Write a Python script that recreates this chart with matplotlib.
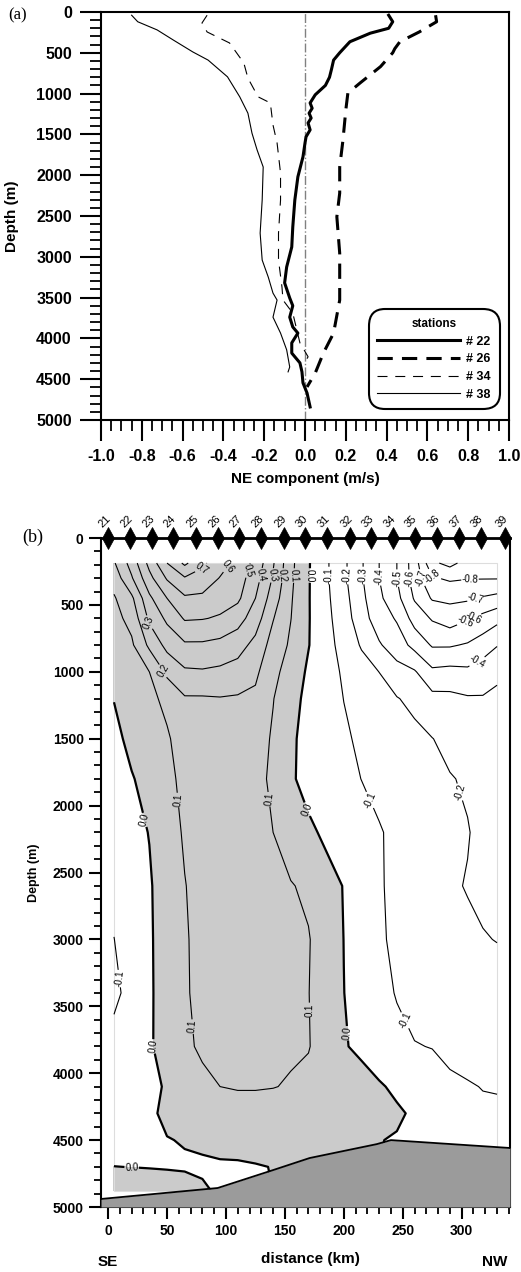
import numpy as np
import matplotlib.pyplot as plt
import matplotlib.transforms as mtransforms
from matplotlib.patches import Rectangle
from matplotlib.ticker import MultipleLocator, FormatStrFormatter

plt.rcParams['font.family'] = ['Liberation Sans', 'DejaVu Sans']
plt.rcParams['font.weight'] = 'bold'
plt.rcParams['axes.labelweight'] = 'bold'
plt.rcParams['contour.negative_linestyle'] = 'solid'

# ---------------- panel (a): NE component profiles (m/s) vs depth (m)
v22 = [0.41, 0.43, 0.41, 0.32, 0.22, 0.17, 0.14, 0.13, 0.12, 0.10, 0.05, 0.025, 0.035, 0.02, 0.03,
       0.015, 0.025, 0.005, 0.0, -0.01, -0.035, -0.05, -0.06, -0.065, -0.09, -0.1, -0.075, -0.06,
       -0.075, -0.06, -0.035, -0.065, -0.065, -0.025, -0.015, -0.01, 0.01, 0.025]
z22 = [40, 120, 200, 260, 365, 500, 590, 700, 800, 900, 1015, 1115, 1180, 1240, 1300,
       1360, 1445, 1530, 1605, 1775, 2020, 2305, 2635, 2880, 3125, 3320, 3505, 3600,
       3740, 3860, 3935, 4055, 4180, 4300, 4410, 4545, 4670, 4840]

v26 = [0.64, 0.645, 0.56, 0.465, 0.44, 0.43, 0.37, 0.27, 0.21, 0.2, 0.186, 0.17, 0.17, 0.156,
       0.17, 0.17, 0.17, 0.14, 0.09, 0.05, 0.01]
z26 = [40, 120, 245, 365, 450, 500, 670, 870, 995, 1200, 1570, 1900, 2220, 2510,
       2955, 3320, 3530, 3935, 4180, 4425, 4595]

v34 = [-0.48, -0.505, -0.48, -0.37, -0.3, -0.28, -0.23, -0.17, -0.157, -0.137, -0.12, -0.12,
       -0.13, -0.13, -0.113, -0.108, -0.06, -0.025, 0.015, 0.0]
z34 = [40, 135, 245, 380, 625, 810, 1040, 1115, 1385, 1605, 1975, 2305,
       2710, 3040, 3370, 3530, 3690, 4055, 4225, 4290]

v38 = [-0.85, -0.82, -0.725, -0.645, -0.55, -0.475, -0.38, -0.32, -0.28, -0.26, -0.235, -0.205,
       -0.21, -0.22, -0.21, -0.18, -0.157, -0.137, -0.157, -0.12, -0.09, -0.075, -0.083]
z38 = [40, 120, 220, 345, 490, 590, 795, 1040, 1240, 1485, 1690, 1900,
       2305, 2710, 3040, 3250, 3445, 3530, 3740, 3935, 4140, 4350, 4410]

# ---------------- panel (b): section of NE component
station_ids = list(range(21, 40))
station_km = [0, 19, 37, 55, 75, 93, 111, 130, 149, 167, 186, 205, 223, 242, 260, 279, 298, 316, 337]

dist_km = [5, 20, 35, 50, 65, 80, 95, 110, 125, 140, 155, 170, 185, 200, 215, 230, 245, 260,
           275, 290, 305, 318, 330]
depth_m = [187, 300, 450, 600, 800, 1000, 1200, 1500, 1800, 2200, 2600, 3000, 3400, 3800,
           4100, 4300, 4500, 4700, 4880]

# one profile per distance column (values at depth_m)
vel_cols = [
    [0.19, 0.14, 0.09, 0.07, 0.05, 0.025, 0.002, -0.02, -0.04, -0.06, -0.08, -0.101, -0.12, -0.07, -0.05, -0.03, -0.02, 0.0005, 0.03],
    [0.34, 0.29, 0.18, 0.13, 0.085, 0.065, 0.045, 0.02, -0.005, -0.03, -0.045, -0.06, -0.07, -0.05, -0.035, -0.025, -0.015, -0.0005, 0.03],
    [0.53, 0.47, 0.38, 0.32, 0.22, 0.10, 0.07, 0.045, 0.025, 0.003, -0.01, -0.012, -0.012, -0.01, -0.012, -0.01, -0.015, -0.002, 0.03],
    [0.70, 0.61, 0.50, 0.42, 0.33, 0.22, 0.13, 0.085, 0.07, 0.06, 0.05, 0.045, 0.04, 0.035, 0.005, 0.012, -0.002, -0.004, 0.03],
    [0.82, 0.69, 0.585, 0.51, 0.385, 0.285, 0.19, 0.16, 0.13, 0.11, 0.097, 0.092, 0.092, 0.088, 0.05, 0.03, 0.003, -0.006, 0.025],
    [0.72, 0.66, 0.58, 0.505, 0.385, 0.29, 0.19, 0.16, 0.145, 0.135, 0.13, 0.125, 0.12, 0.11, 0.085, 0.05, 0.012, -0.01, 0.01],
    [0.64, 0.595, 0.54, 0.49, 0.37, 0.28, 0.195, 0.17, 0.155, 0.145, 0.14, 0.135, 0.13, 0.12, 0.1, 0.06, 0.025, -0.01, -0.01],
    [0.57, 0.55, 0.52, 0.44, 0.34, 0.26, 0.19, 0.165, 0.15, 0.145, 0.14, 0.138, 0.135, 0.125, 0.105, 0.07, 0.03, -0.01, -0.02],
    [0.47, 0.44, 0.40, 0.35, 0.27, 0.22, 0.18, 0.14, 0.12, 0.115, 0.12, 0.125, 0.125, 0.12, 0.105, 0.07, 0.035, -0.005, -0.01],
    [0.31, 0.29, 0.25, 0.205, 0.16, 0.125, 0.103, 0.09, 0.088, 0.1, 0.11, 0.115, 0.118, 0.115, 0.102, 0.07, 0.035, 0.002, 0.0],
    [0.125, 0.12, 0.11, 0.102, 0.085, 0.06, 0.04, 0.02, 0.012, 0.055, 0.105, 0.11, 0.112, 0.108, 0.095, 0.07, 0.04, 0.02, 0.0],
    [0.008, 0.007, 0.006, 0.006, 0.004, -0.015, -0.03, -0.04, -0.03, 0.017, 0.085, 0.105, 0.102, 0.104, 0.08, 0.06, 0.04, 0.02, 0.0],
    [-0.085, -0.085, -0.08, -0.075, -0.07, -0.062, -0.068, -0.057, -0.048, -0.016, 0.03, 0.056, 0.053, 0.063, 0.05, 0.045, 0.03, 0.02, 0.0],
    [-0.18, -0.18, -0.165, -0.15, -0.13, -0.112, -0.101, -0.09, -0.075, -0.041, -0.003, -0.001, 0.001, 0.004, 0.035, 0.04, 0.03, 0.02, 0.0],
    [-0.29, -0.29, -0.275, -0.26, -0.21, -0.156, -0.127, -0.112, -0.101, -0.067, -0.047, -0.043, -0.034, -0.011, 0.02, 0.03, 0.01, 0.0, 0.0],
    [-0.40, -0.40, -0.38, -0.35, -0.29, -0.201, -0.155, -0.132, -0.119, -0.095, -0.094, -0.093, -0.074, -0.044, 0.008, 0.02, 0.002, 0.0, 0.0],
    [-0.50, -0.50, -0.47, -0.41, -0.35, -0.265, -0.195, -0.17, -0.137, -0.115, -0.115, -0.11, -0.105, -0.078, -0.014, 0.01, -0.005, -0.01, -0.01],
    [-0.65, -0.645, -0.61, -0.54, -0.43, -0.29, -0.225, -0.175, -0.15, -0.134, -0.138, -0.128, -0.125, -0.097, -0.03, -0.01, -0.02, -0.02, -0.02],
    [-0.88, -0.79, -0.71, -0.61, -0.51, -0.38, -0.27, -0.198, -0.18, -0.16, -0.16, -0.145, -0.13, -0.102, -0.07, -0.06, -0.05, -0.05, -0.05],
    [-0.93, -0.815, -0.72, -0.65, -0.51, -0.37, -0.275, -0.225, -0.195, -0.19, -0.19, -0.17, -0.15, -0.12, -0.085, -0.075, -0.07, -0.07, -0.07],
    [-0.86, -0.805, -0.715, -0.61, -0.49, -0.38, -0.29, -0.24, -0.21, -0.196, -0.204, -0.185, -0.16, -0.125, -0.095, -0.085, -0.08, -0.08, -0.08],
    [-0.855, -0.805, -0.69, -0.57, -0.45, -0.35, -0.293, -0.26, -0.23, -0.22, -0.215, -0.196, -0.165, -0.13, -0.102, -0.09, -0.082, -0.08, -0.08],
    [-0.85, -0.805, -0.67, -0.53, -0.405, -0.31, -0.29, -0.27, -0.25, -0.235, -0.22, -0.202, -0.17, -0.135, -0.104, -0.09, -0.085, -0.085, -0.085],
]
levels = [-0.9, -0.8, -0.7, -0.6, -0.5, -0.4, -0.3, -0.2, -0.1, 0.0, 0.1, 0.2, 0.3, 0.4, 0.5, 0.6, 0.7, 0.8]

# where the contour labels sit (km, m)
label_pos = [(80, 240), (103, 220), (123, 255), (131, 280), (140, 280), (148, 280), (157, 280),
             (171, 280), (188, 280), (203, 280), (216, 280), (229, 290), (245, 300), (256, 300),
             (264, 300), (275, 300), (307, 280), (310, 400), (308, 560), (306, 680), (311, 890),
             (33, 635), (47, 990), (59, 1958), (34, 2100), (131, 1958), (165, 2040), (222, 1958),
             (304, 1883), (38, 3800), (67, 3655), (169, 3527), (205, 3700), (247, 3625),
             (12, 3290), (20, 4700)]

bathy_km = [-6, 93, 140, 171, 228, 240, 341]
bathy_m = [4940, 4858, 4724, 4634, 4530, 4500, 4559]

fig = plt.figure(figsize=(5.21, 12.72), dpi=100)
ax1 = fig.add_axes([0.1939, 0.6698, 0.7831, 0.3208])
ax2 = fig.add_axes([0.1939, 0.0511, 0.7850, 0.5259])

# ---- panel (a)
ax1.axvline(0, color='#808080', lw=1.0, ls='-.')
ax1.plot(v22, z22, color='k', lw=2.2, label='# 22')
ax1.plot(v26, z26, color='k', lw=2.2, dashes=(5, 3), label='# 26')
ax1.plot(v34, z34, color='k', lw=0.8, dashes=(9, 7), label='# 34')
ax1.plot(v38, z38, color='k', lw=0.8, label='# 38')
ax1.set_xlim(-1, 1)
ax1.set_ylim(5000, 0)
ax1.xaxis.set_major_locator(MultipleLocator(0.2))
ax1.xaxis.set_minor_locator(MultipleLocator(0.05))
ax1.xaxis.set_major_formatter(FormatStrFormatter('%.1f'))
ax1.yaxis.set_major_locator(MultipleLocator(500))
ax1.yaxis.set_minor_locator(MultipleLocator(100))
ax1.tick_params(which='major', direction='out', length=15, width=1.5, labelsize=11.5, pad=6)
ax1.tick_params(which='minor', direction='out', length=8, width=1.3)
for sp in ax1.spines.values():
    sp.set_linewidth(1.5)
ax1.set_xlabel('NE component (m/s)', fontsize=11, fontweight='bold')
ax1.xaxis.set_label_coords(0.5, -0.128)
ax1.set_ylabel('Depth (m)', fontsize=11, fontweight='bold')
ax1.yaxis.set_label_coords(-0.2, 0.5)

leg = ax1.legend(title='stations', loc='lower right', bbox_to_anchor=(0.9706, 0.032),
                 borderaxespad=0, fontsize=9, title_fontsize=8.5, handlelength=6.6,
                 handletextpad=0.5, labelspacing=0.45, borderpad=0.5,
                 fancybox=True, framealpha=1, edgecolor='k')
leg.get_frame().set_linewidth(1.5)
leg.get_frame().set_boxstyle('round,pad=0.2,rounding_size=1.3')

# ---- panel (b)
Z = np.array(vel_cols).T
ax2.contourf(dist_km, depth_m, Z, levels=[0, 2], colors=['#cbcbcb'], zorder=1)
ax2.add_patch(Rectangle((dist_km[0], depth_m[0]), dist_km[-1] - dist_km[0],
                        depth_m[-1] - depth_m[0], fill=False, ec='#dddddd', lw=0.8, zorder=1.5))
lws = [1.6 if abs(lv) < 1e-9 else 0.8 for lv in levels]
cs = ax2.contour(dist_km, depth_m, Z, levels=levels, colors='k', linewidths=lws, zorder=2)
labs = ax2.clabel(cs, fmt='%.1f', fontsize=7, inline=True, inline_spacing=1, manual=label_pos)
for t in labs:
    t.set_fontweight('normal')

ax2.fill_between(bathy_km, bathy_m, 5000, color='#9b9b9b', zorder=3, lw=0)
ax2.plot(bathy_km, bathy_m, color='k', lw=1.3, zorder=3.5)

ax2.set_xlim(-6, 341)
ax2.set_ylim(5000, 0)
ax2.xaxis.set_major_locator(MultipleLocator(50))
ax2.xaxis.set_minor_locator(MultipleLocator(10))
ax2.yaxis.set_major_locator(MultipleLocator(500))
ax2.yaxis.set_minor_locator(MultipleLocator(100))
ax2.tick_params(which='major', direction='out', length=8.5, width=1.5, labelsize=10, pad=4)
ax2.tick_params(which='minor', direction='out', length=5, width=1.3)
for sp in ax2.spines.values():
    sp.set_linewidth(1.5)
ax2.spines['top'].set_linewidth(2.0)
ax2.spines['top'].set_zorder(4)

ax2.plot(station_km, [0] * len(station_km), 'd', ms=11, color='k', mec='k', mew=0.5,
         clip_on=False, zorder=6)
for sid, km in zip(station_ids, station_km):
    ax2.annotate(str(sid), xy=(km, 0), xytext=(-3, 6), textcoords='offset points',
                 rotation=45, ha='left', va='bottom', rotation_mode='anchor',
                 fontsize=8, fontweight='normal', annotation_clip=False)

ax2.set_xlabel('distance (km)', fontsize=11, fontweight='bold')
ax2.xaxis.set_label_coords(0.511, -0.068)
ax2.set_ylabel('Depth (m)', fontsize=9, fontweight='bold')
ax2.yaxis.set_label_coords(-0.15, 0.5)
trans = mtransforms.blended_transform_factory(ax2.transData, ax2.transAxes)
ax2.text(0, -0.082, 'SE', transform=trans, ha='center', va='center', fontsize=11)
ax2.text(328, -0.082, 'NW', transform=trans, ha='center', va='center', fontsize=11)

fig.text(8 / 521, 1 - 15 / 1272, '(a)', family='Liberation Serif', fontweight='normal',
         fontsize=12, ha='left', va='center')
fig.text(22 / 521, 1 - 537 / 1272, '(b)', family='Liberation Serif', fontweight='normal',
         fontsize=13, ha='left', va='center')

fig.savefig('out.png', dpi=100)
